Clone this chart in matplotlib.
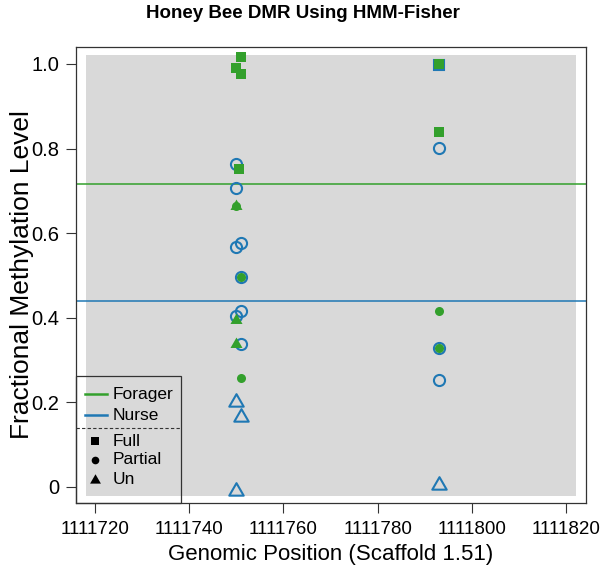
#!/usr/bin/env python3
"""Honey bee DMR fractional methylation plot (HMM-Fisher)."""

import matplotlib

matplotlib.use("Agg")
import matplotlib.pyplot as plt
from matplotlib.path import Path
from matplotlib.patches import Rectangle
from matplotlib.lines import Line2D

plt.rcParams["font.family"] = ["Liberation Sans", "DejaVu Sans"]

GREEN = "#33a02c"
BLUE = "#1f78b4"
BG = "#d9d9d9"

# Forager (filled markers)
forager_full_x = [1111751, 1111750, 1111751, 1111750.6, 1111793, 1111793]
forager_full_y = [1.017, 0.990, 0.976, 0.752, 1.000, 0.839]
forager_partial_x = [1111750, 1111751, 1111751, 1111793, 1111793]
forager_partial_y = [0.665, 0.496, 0.258, 0.416, 0.329]
forager_un_x = [1111750, 1111750, 1111750]
forager_un_y = [0.665, 0.395, 0.338]

# Nurse (open markers)
nurse_full_x = [1111793]
nurse_full_y = [0.998]
nurse_partial_x = [1111750, 1111750, 1111750, 1111751, 1111751, 1111750,
                   1111751, 1111751, 1111793, 1111793, 1111793]
nurse_partial_y = [0.764, 0.707, 0.567, 0.577, 0.496, 0.404,
                   0.416, 0.338, 0.802, 0.329, 0.253]
nurse_un_x = [1111750, 1111751, 1111750, 1111793]
nurse_un_y = [0.201, 0.165, -0.010, 0.005]

forager_mean = 0.716
nurse_mean = 0.440

x_ticks = [1111720, 1111740, 1111760, 1111780, 1111800, 1111820]
y_ticks = [0, 0.2, 0.4, 0.6, 0.8, 1.0]
y_tick_labels = ["0", "0.2", "0.4", "0.6", "0.8", "1.0"]

# R-style triangle: centroid at the data point
TRI = Path([(0, 1), (0.866, -0.5), (-0.866, -0.5), (0, 1)],
           [Path.MOVETO, Path.LINETO, Path.LINETO, Path.CLOSEPOLY])


def main() -> None:
    fig = plt.figure(figsize=(6.06, 5.79), dpi=100)
    W, H = 606, 579
    ax = fig.add_axes([76 / W, 1 - 503 / H, 510 / W, 456 / H])
    ax.set_xlim(1111716.0, 1111824.2)
    ax.set_ylim(-0.038, 1.040)
    ax.add_patch(Rectangle((1111718.2, -0.021), 103.9, 1.042,
                           facecolor=BG, edgecolor="none", zorder=0))

    ax.axhline(forager_mean, color=GREEN, lw=1.1, zorder=1)
    ax.axhline(nurse_mean, color=BLUE, lw=1.1, zorder=1)

    open_kw = dict(linestyle="none", markerfacecolor="none",
                   markeredgecolor=BLUE, markeredgewidth=1.5, zorder=2)
    ax.plot(nurse_full_x, nurse_full_y, marker="s", markersize=7.5, **open_kw)
    ax.plot(nurse_partial_x, nurse_partial_y, marker="o", markersize=8, **open_kw)
    ax.plot(nurse_un_x, nurse_un_y, marker=TRI, markersize=12, **open_kw)

    fill_kw = dict(linestyle="none", color=GREEN, markeredgewidth=0, zorder=3)
    ax.plot(forager_full_x, forager_full_y, marker="s", markersize=6.5, **fill_kw)
    ax.plot(forager_partial_x, forager_partial_y, marker="o", markersize=6.5, **fill_kw)
    ax.plot(forager_un_x, forager_un_y, marker=TRI, markersize=10, **fill_kw)

    ax.set_xticks(x_ticks, [str(t) for t in x_ticks])
    ax.set_yticks(y_ticks, y_tick_labels)
    ax.tick_params(direction="out", length=7, width=0.8,
                   color="#333333", pad=6)
    ax.tick_params(axis="x", labelsize=13.5)
    ax.tick_params(axis="y", labelsize=14.5, pad=5)
    for s in ax.spines.values():
        s.set_linewidth(0.9)
        s.set_color("#333333")

    ax.set_xlabel("Genomic Position (Scaffold 1.51)", fontsize=16, labelpad=4)
    fig.text(22 / W, 1 - 275 / H, "Fractional Methylation Level",
             rotation=90, ha="center", va="center", fontsize=19)
    fig.text(0.5, 1 - 14 / H, "Honey Bee DMR Using HMM-Fisher",
             ha="center", va="center", fontsize=13.5, fontweight="bold")

    # legend drawn in pixel space
    def fx(px):
        return px / W

    def fy(py):
        return 1 - py / H

    fig.patches.append(Rectangle((fx(76), fy(503)), 105 / W, 127 / H,
                                 transform=fig.transFigure, facecolor="none",
                                 edgecolor="#333333", lw=0.9, zorder=5))
    fig.lines.append(Line2D([fx(76), fx(181)], [fy(428), fy(428)],
                            transform=fig.transFigure, color="#333333",
                            lw=0.8, linestyle=(0, (3, 2))))
    for py, col, lab in [(394, GREEN, "Forager"), (415, BLUE, "Nurse")]:
        fig.lines.append(Line2D([fx(85), fx(107)], [fy(py), fy(py)],
                                transform=fig.transFigure, color=col, lw=1.8))
        fig.text(fx(113), fy(py), lab, ha="left", va="center", fontsize=12.5)
    for py, mk, ms, lab in [(441, "s", 5.5, "Full"), (460, "o", 5.5, "Partial"),
                            (480, TRI, 9, "Un")]:
        fig.lines.append(Line2D([fx(95)], [fy(py)], transform=fig.transFigure,
                                marker=mk, markersize=ms, color="black",
                                markeredgewidth=0, linestyle="none"))
        fig.text(fx(113), fy(py), lab, ha="left", va="center", fontsize=12.5)

    fig.savefig("out.png", dpi=100)
    plt.close(fig)


if __name__ == "__main__":
    main()
